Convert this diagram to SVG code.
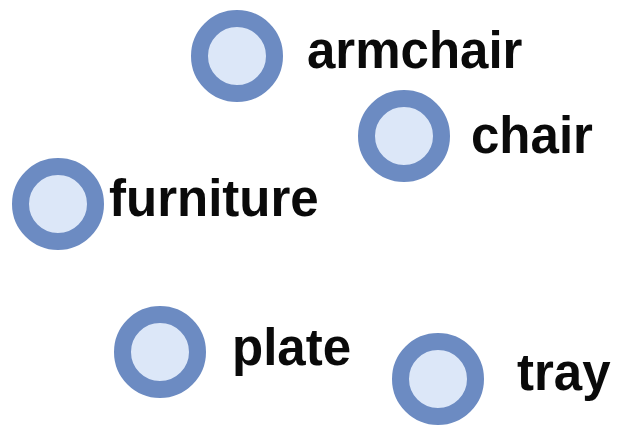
<svg xmlns="http://www.w3.org/2000/svg" width="626" height="427" viewBox="0 0 626 427">
<style>
.node circle{fill:#dce7f8;stroke:#6c8bc2;stroke-width:17}
.node text{font-family:"Liberation Sans",Arial,Helvetica,sans-serif;font-weight:bold;font-size:51px;fill:#0a0a0a}
</style>
<rect width="626" height="427" fill="#fff"/>
<g id="connectors"></g>
<g id="node-armchair" class="node"><circle cx="237" cy="56" r="37.5"/><text x="307" y="68">armchair</text></g>
<g id="node-chair" class="node"><circle cx="404" cy="136" r="37.5"/><text x="471" y="153">chair</text></g>
<g id="node-furniture" class="node"><circle cx="58" cy="204" r="37.5"/><text x="109" y="216">furniture</text></g>
<g id="node-plate" class="node"><circle cx="160" cy="352" r="37.5"/><text x="232" y="365">plate</text></g>
<g id="node-tray" class="node"><circle cx="438" cy="379" r="37.5"/><text x="517" y="390">tray</text></g>
</svg>
